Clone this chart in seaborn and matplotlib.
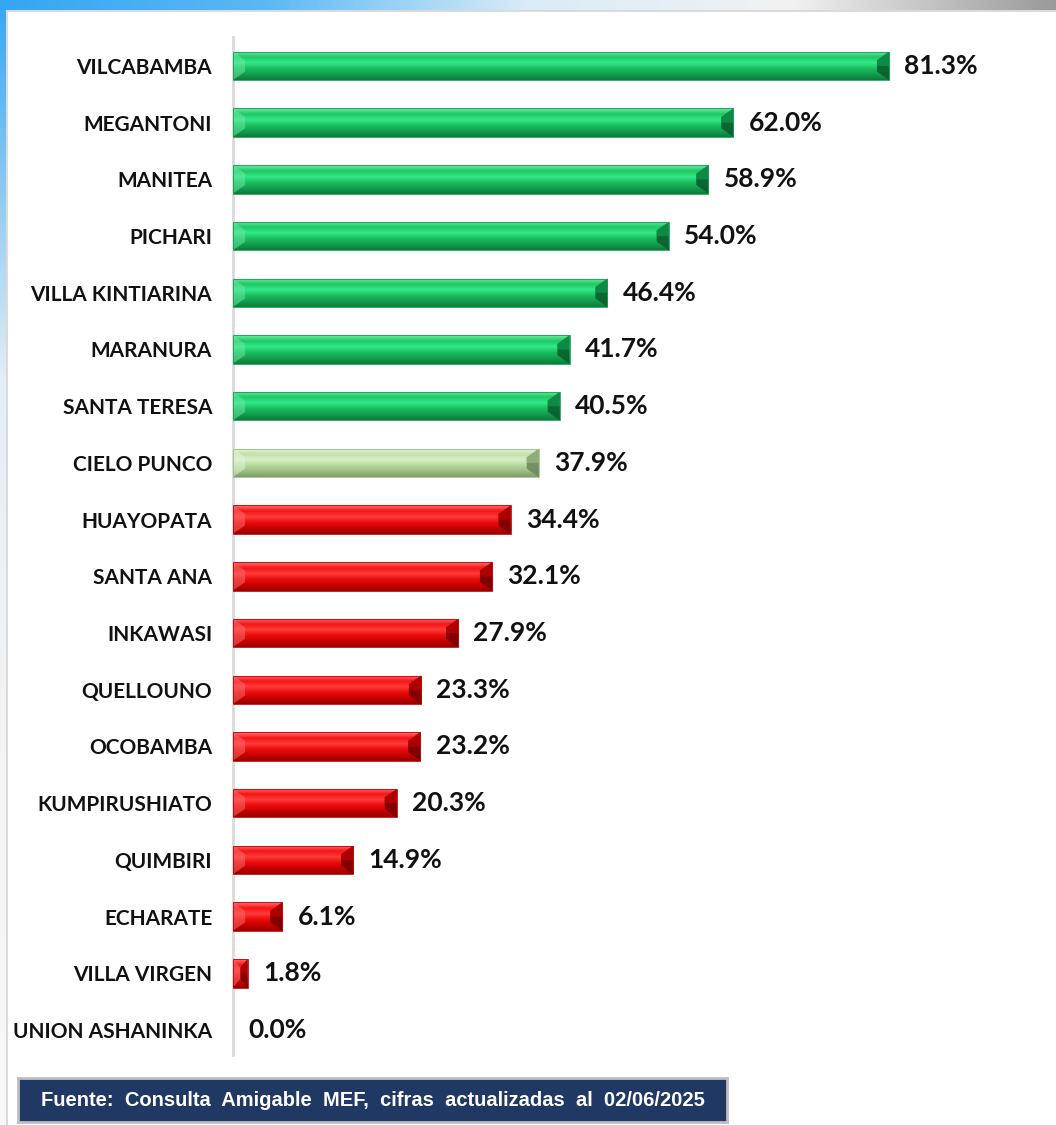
import numpy as np
import pandas as pd
import matplotlib
matplotlib.use("Agg")
import matplotlib.pyplot as plt
from matplotlib.patches import Polygon, Rectangle
from matplotlib.colors import LinearSegmentedColormap, to_rgb
import seaborn as sns

distritos = ["VILCABAMBA", "MEGANTONI", "MANITEA", "PICHARI", "VILLA KINTIARINA",
             "MARANURA", "SANTA TERESA", "CIELO PUNCO", "HUAYOPATA", "SANTA ANA",
             "INKAWASI", "QUELLOUNO", "OCOBAMBA", "KUMPIRUSHIATO", "QUIMBIRI",
             "ECHARATE", "VILLA VIRGEN", "UNION ASHANINKA"]
avance = [81.3, 62.0, 58.9, 54.0, 46.4, 41.7, 40.5, 37.9, 34.4, 32.1,
          27.9, 23.3, 23.2, 20.3, 14.9, 6.1, 1.8, 0.0]
grupo = ["alto"] * 7 + ["medio"] + ["bajo"] * 10
fuente = "Fuente:  Consulta  Amigable  MEF,  cifras  actualizadas  al  02/06/2025"

colores = {"alto": "#13B457", "medio": "#B9DCA0", "bajo": "#F00A0A"}
# degradado vertical (arriba -> abajo) para el efecto biselado
degradados = {
    "alto": ["#6DEBA6", "#1FC865", "#33E889", "#1BBE5F", "#12A04F", "#0C7C3B"],
    "medio": ["#E6F5DA", "#C2E2AA", "#D9F0C6", "#B6D89C", "#9CBF84", "#7E9C6C"],
    "bajo": ["#FF7070", "#F51515", "#FF3A3A", "#EA0C0C", "#C80000", "#960000"],
}
oscuros = {"alto": "#0A5E2D", "medio": "#6E8A5E", "bajo": "#7A0000"}

df = pd.DataFrame({"distrito": distritos, "avance": avance, "grupo": grupo})

sns.set_style("white")
plt.rcParams["font.family"] = ["Lato", "DejaVu Sans"]

W, H = 1056, 1125
fig = plt.figure(figsize=(W / 100, H / 100), dpi=100)
fig.patch.set_facecolor("white")

# marco de fondo (franja azul superior e izquierda)
top = fig.add_axes([0, 1 - 10 / H, 1, 10 / H])
grad = LinearSegmentedColormap.from_list("g", ["#35A6F2", "#5BB8F4", "#D9ECF8", "#F2F2F2", "#9A9A9A"])
top.imshow(np.linspace(0, 1, 256)[None, :], aspect="auto", cmap=grad)
top.axis("off")
left = fig.add_axes([0, 0, 6 / W, 1 - 10 / H])
gradl = LinearSegmentedColormap.from_list("gl", ["#3AA8F2", "#E6EEF4", "#F4F4F4", "#F8F8F8"])
left.imshow(np.linspace(0, 1, 256)[:, None], aspect="auto", cmap=gradl)
left.axis("off")
fig.add_artist(Rectangle((6 / W, -0.01), 1, 1 - 10 / H + 0.01, transform=fig.transFigure,
                         facecolor="white", edgecolor="#D8D8D8", linewidth=2, zorder=-5))

ax = fig.add_axes([233 / W, 1 - 1055 / H, (1040 - 233) / W, (1055 - 37) / H])
ax.patch.set_alpha(0)
sns.barplot(data=df, x="avance", y="distrito", hue="grupo", palette=colores,
            width=0.5, legend=False, ax=ax, saturation=1, linewidth=0)

ax.set_xlabel("")
ax.set_ylabel("")
ax.set_xticks([])
for s in ["top", "right", "bottom"]:
    ax.spines[s].set_visible(False)
ax.spines["left"].set_color("#D9D9D9")
ax.spines["left"].set_linewidth(2)
ax.tick_params(axis="y", length=0, pad=15)
for t in ax.get_yticklabels():
    t.set_fontweight("bold")
    t.set_fontsize(15)
    t.set_color("#111111")

# biselado sobre cada barra
for p in list(ax.patches):
    x0, y0, w, h = p.get_x(), p.get_y(), p.get_width(), p.get_height()
    if w <= 0:
        continue
    fc = p.get_facecolor()[:3]
    g = [k for k, v in colores.items() if np.allclose(to_rgb(v), fc, atol=0.01)][0]
    cmap = LinearSegmentedColormap.from_list(g, degradados[g])
    im = ax.imshow(np.linspace(0, 1, 64)[:, None], cmap=cmap, aspect="auto",
                   extent=(x0, x0 + w, y0 + h, y0), origin="upper", zorder=3,
                   interpolation="bilinear")
    im.set_clip_path(p)
    dx = min(1.5, w / 2)
    dy = h * 0.3
    ax.add_patch(Polygon([(x0 + w, y0), (x0 + w, y0 + h), (x0 + w - dx, y0 + h - dy), (x0 + w - dx, y0 + dy)],
                         closed=True, facecolor=oscuros[g], edgecolor="none", alpha=0.9, zorder=4))
    ax.add_patch(Polygon([(x0 + w, y0), (x0 + w - dx, y0 + dy), (x0 + w - dx, y0 + h * 0.5), (x0 + w, y0 + h * 0.5)],
                         closed=True, facecolor=degradados[g][4], edgecolor="none", alpha=0.6, zorder=4))
    ax.add_patch(Polygon([(x0, y0), (x0, y0 + h), (x0 + dx, y0 + h - dy), (x0 + dx, y0 + dy)],
                         closed=True, facecolor=degradados[g][0], edgecolor="none", alpha=0.5, zorder=4))
    ax.add_patch(Rectangle((x0, y0), w, h, facecolor="none", edgecolor=degradados[g][4],
                           linewidth=0.6, zorder=5))

for i, v in enumerate(avance):
    ax.annotate(f"{v:.1f}%", xy=(v, i), xytext=(11, 0), textcoords="offset points",
                ha="left", va="center", fontsize=19, fontweight="bold", color="#111111")

ax.set_xlim(0, 100)
ax.set_ylim(17.44, -0.51)

# recuadro de la fuente
fax = fig.add_axes([18 / W, 1 - 1122 / H, (727 - 18) / W, 44 / H])
fax.set_facecolor("#1F3864")
fax.set_xticks([])
fax.set_yticks([])
for s in fax.spines.values():
    s.set_color("#BFBFBF")
    s.set_linewidth(2)
fax.text(0.5, 0.5, fuente, transform=fax.transAxes, ha="center", va="center",
         color="white", fontsize=14.5, fontweight="bold", family=["Liberation Sans", "DejaVu Sans"])

fig.savefig("out.png", dpi=100)
